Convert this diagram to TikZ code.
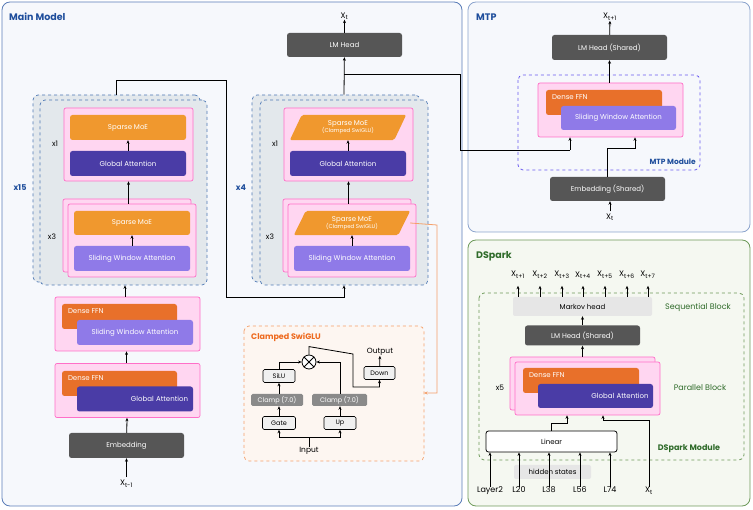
\documentclass[tikz,border=0pt]{standalone}
\usepackage{fontspec}
\setmainfont{Poppins}
\usepackage{xcolor}
\definecolor{panelblue}{HTML}{F6F8FC}
\definecolor{panelline}{HTML}{5B7DB8}
\definecolor{titleblue}{HTML}{1F4E9C}
\definecolor{panelgreen}{HTML}{F5F8F1}
\definecolor{greenline}{HTML}{6E9A5A}
\definecolor{titlegreen}{HTML}{2F6B2A}
\definecolor{stackgray}{HTML}{E3E8EC}
\definecolor{stackline}{HTML}{4F79B5}
\definecolor{pinkfill}{HTML}{FFD6F1}
\definecolor{pinkline}{HTML}{FF6FC8}
\definecolor{moeorange}{HTML}{F0982E}
\definecolor{ffnorange}{HTML}{E8702A}
\definecolor{gapurple}{HTML}{4A3CA6}
\definecolor{swapurple}{HTML}{8F7AE8}
\definecolor{headgray}{HTML}{565656}
\definecolor{clampgray}{HTML}{8A8A8A}
\definecolor{swiglufill}{HTML}{FDF6F1}
\definecolor{swigluline}{HTML}{F5A06A}
\definecolor{swiglutitle}{HTML}{EE6A1E}
\definecolor{mtpdash}{HTML}{6B5CF0}
\definecolor{markovgray}{HTML}{E6E6E6}
\usepackage{tikz}
\usetikzlibrary{arrows.meta, positioning, calc}

\tikzset{
  arr/.style={-{Stealth[length=3.5pt,width=3pt]}, line width=0.8pt},
  plain/.style={line width=0.8pt},
  box/.style={rounded corners=2.5pt, inner sep=1pt, text=white, font=\fontsize{7}{8}\selectfont},
  pinkblk/.style={draw=pinkline, fill=pinkfill, line width=0.7pt, rounded corners=2pt, inner sep=0pt},
  stackbox/.style={draw=stackline, fill=stackgray, dashed, line width=0.7pt, rounded corners=5pt, inner sep=0pt},
  moe/.style={box, fill=moeorange},
  ffn/.style={box, fill=ffnorange},
  ga/.style={box, fill=gapurple},
  swa/.style={box, fill=swapurple},
  head/.style={box, fill=headgray},
  wlabel/.style={text=white, font=\fontsize{7}{8}\selectfont, inner sep=0pt},
  lbl/.style={font=\fontsize{7.5}{8}\selectfont, inner sep=0pt},
  title/.style={font=\fontsize{9.5}{10}\selectfont\bfseries, inner sep=0pt, anchor=west},
  sw/.style={draw, fill=markovgray!60, rounded corners=1.5pt, line width=0.6pt, font=\fontsize{6.5}{7}\selectfont, inner sep=1pt, minimum height=13pt},
  clamp/.style={fill=clampgray, text=white, rounded corners=1.5pt, font=\fontsize{6.5}{7}\selectfont, inner sep=1pt, minimum height=12pt},
}

\begin{document}
\begin{tikzpicture}[x=1pt, y=-1pt]
  \useasboundingbox (0,0) rectangle (753,510);

  % Panels
  \draw[panelline, fill=panelblue, line width=0.8pt, rounded corners=8pt] (2,2) rectangle (462,506);
  \node[title, text=titleblue] (tmain) at (9,17) {Main Model};
  \draw[panelline!70, fill=panelblue, line width=0.8pt, rounded corners=8pt] (468,2) rectangle (750,232);
  \node[title, text=titleblue] (tmtp) at (476,17) {MTP};
  \draw[greenline, fill=panelgreen, line width=0.8pt, rounded corners=8pt] (468,240) rectangle (750,506);
  \node[title, text=titlegreen] (tdspark) at (476,256) {DSpark};

  % Left stack (x15)
  \node[stackbox, minimum width=167pt, minimum height=187pt] (lback) at (116.5,188.5) {};
  \node[stackbox, minimum width=167pt, minimum height=185pt] (lstack) at (123.5,192.5) {};
  \node[pinkblk, minimum width=129pt, minimum height=73pt] (lx1) at (128.5,144.5) {};
  \node[moe, minimum width=116pt, minimum height=25pt] (lmoe1) at (128,127.5) {Sparse MoE};
  \node[ga, minimum width=116pt, minimum height=25pt] (lga) at (128,163.5) {Global Attention};
  \node[pinkblk, minimum width=128pt, minimum height=73pt] (lx3b) at (127,235.5) {};
  \node[pinkblk, minimum width=128pt, minimum height=73pt] (lx3) at (132,240.5) {};
  \node[moe, minimum width=116pt, minimum height=24pt] (lmoe3) at (132,223) {Sparse MoE};
  \node[swa, minimum width=116pt, minimum height=25pt] (lswa) at (132,258.5) {Sliding Window Attention};
  \node[lbl] (lrep1) at (55,144) {x1};
  \node[lbl] (lrep3) at (52,237) {x3};
  \node[lbl, text=titleblue, font=\fontsize{8}{8}\selectfont\bfseries] (lrep15) at (20,188) {x15};
  \draw[arr] (lga) -- (lmoe1);
  \draw[arr] (lswa) -- (lmoe3);
  \draw[arr] (lx3.north -| lx1) -- (lx1.south);

  % Right stack (x4)
  \node[stackbox, minimum width=168pt, minimum height=187pt] (rback) at (336,188.5) {};
  \node[stackbox, minimum width=168pt, minimum height=185pt] (rstack) at (344,192.5) {};
  \node[pinkblk, minimum width=129pt, minimum height=73pt] (rx1) at (348.5,144.5) {};
  \node[inner sep=0pt, minimum width=116pt, minimum height=25pt] (rmoe1) at (348,127.5) {};
  \fill[moeorange, rounded corners=2pt] ($(rmoe1.south west)$) -- ($(rmoe1.north west)+(12,0)$) -- (rmoe1.north east) -- ($(rmoe1.south east)-(12,0)$) -- cycle;
  \node[wlabel, align=center] at (rmoe1) {Sparse MoE\\[-1pt]{\fontsize{5.5}{6}\selectfont(Clamped SwiGLU)}};
  \node[ga, minimum width=116pt, minimum height=25pt] (rga) at (348,163.5) {Global Attention};
  \node[pinkblk, minimum width=128pt, minimum height=73pt] (rx3b) at (347,235.5) {};
  \node[pinkblk, minimum width=128pt, minimum height=73pt] (rx3) at (352,240.5) {};
  \node[inner sep=0pt, minimum width=116pt, minimum height=24pt] (rmoe3) at (352,223) {};
  \fill[moeorange, rounded corners=2pt] ($(rmoe3.south west)$) -- ($(rmoe3.north west)+(12,0)$) -- (rmoe3.north east) -- ($(rmoe3.south east)-(12,0)$) -- cycle;
  \node[wlabel, align=center] at (rmoe3) {Sparse MoE\\[-1pt]{\fontsize{5.5}{6}\selectfont(Clamped SwiGLU)}};
  \node[swa, minimum width=116pt, minimum height=25pt] (rswa) at (352,258.5) {Sliding Window Attention};
  \node[lbl] (rrep1) at (275,144) {x1};
  \node[lbl] (rrep3) at (270,237) {x3};
  \node[lbl, text=titleblue, font=\fontsize{8}{8}\selectfont\bfseries] (rrep4) at (241,188) {x4};
  \draw[arr] (rga) -- (rmoe1);
  \draw[arr] (rswa) -- (rmoe3);
  \draw[arr] (rx3.north -| rx1) -- (rx1.south);

  % Head of main model
  \node[head, minimum width=115pt, minimum height=24pt] (lmhead) at (344.5,45) {LM Head};
  \node[lbl, font=\fontsize{8}{8}\selectfont] (xt) at (344.5,16) {X\textsubscript{t}};
  \draw[arr] (lmhead) -- (xt);
  \draw[arr] (rback.north -| rstack) -- (lmhead);
  \coordinate (tap) at (344,74);
  \draw[plain] (tap) -- (460,74) -- (460,150) -- (570,150);

  % Lower blocks
  \node[pinkblk, minimum width=145pt, minimum height=54pt] (blkA) at (127.5,324) {};
  \node[ffn, minimum width=115pt, minimum height=25pt] (ffnA) at (119.5,316.5) {};
  \node[wlabel, anchor=north west] at ([xshift=6pt,yshift=-5pt]ffnA.north west) {Dense FFN};
  \node[swa, minimum width=116pt, minimum height=25pt] (swaA) at (135,332.5) {Sliding Window Attention};
  \node[pinkblk, minimum width=145pt, minimum height=54pt] (blkB) at (127.5,390.5) {};
  \node[ffn, minimum width=115pt, minimum height=25pt] (ffnB) at (119.5,383.5) {};
  \node[wlabel, anchor=north west] at ([xshift=6pt,yshift=-5pt]ffnB.north west) {Dense FFN};
  \node[ga, minimum width=116pt, minimum height=25pt, text width=106pt, align=right] (gaB) at (135,399) {Global Attention};
  \node[head, minimum width=115pt, minimum height=25pt] (embed) at (126.5,445.5) {Embedding};
  \node[lbl, font=\fontsize{8}{8}\selectfont] (xtm) at (126.5,484) {X\textsubscript{t-1}};
  \draw[arr] (xtm.north) ++(0,-3) -- (embed.south);
  \draw[arr] (embed) -- (blkB);
  \draw[arr] (blkB.north -| embed) -- (blkA.south -| embed);
  \draw[arr] (blkA.north -| 125,0) -- (lstack.south -| 125,0);
  \draw[arr] (lback.north) -- ++(0,-14) -| (226,297) -| (rstack.south);

  % Clamped SwiGLU
  \draw[swigluline, dashed, fill=swiglufill, line width=0.7pt, rounded corners=5pt] (244,326) rectangle (424,461);
  \node[title, text=swiglutitle, font=\fontsize{8}{9}\selectfont\bfseries] (tswi) at (251,337) {Clamped SwiGLU};
  \node[sw, minimum width=33pt] (gate) at (279,423) {Gate};
  \node[sw, minimum width=32pt] (up) at (340,423) {Up};
  \node[clamp, minimum width=52pt] (clampl) at (277,400) {Clamp (7.0)};
  \node[clamp, minimum width=55pt] (clampr) at (339.5,400) {Clamp (7.0)};
  \node[sw, minimum width=32pt] (silu) at (279,376) {SiLU};
  \node[circle, draw, line width=0.8pt, fill=white, minimum size=14pt, inner sep=0pt] (mul) at (309,362) {};
  \draw[line width=0.8pt] (mul.north west) -- (mul.south east) (mul.north east) -- (mul.south west);
  \node[sw, minimum width=31pt] (down) at (379.5,373) {Down};
  \node[lbl] (outp) at (380,352) {Output};
  \node[lbl] (inp) at (309,451) {Input};
  \coordinate (split) at (309,437);
  \draw[plain] (inp.north) -- (split);
  \draw[arr] (split) -| (gate.south);
  \draw[arr] (split) -| (up.south);
  \draw[arr] (gate) -- (clampl.south -| gate);
  \draw[arr] (clampl.north -| silu) -- (silu);
  \draw[arr] (silu.north) |- (mul.west);
  \draw[arr] (up) -- (clampr.south -| up);
  \draw[arr] (clampr.north -| up) |- (mul.east);
  \draw[arr] (mul.north) -- ++(0,-8) -- (353,354) -- (353,387) -| (down.south);
  \draw[arr] (down) -- (outp);
  \draw[swigluline, -{Stealth[length=3.5pt,width=3pt]}, line width=0.8pt] (rmoe3.east) -- (437,225) |- (424,393);

  % MTP
  \node[head, minimum width=115pt, minimum height=25pt] (mhead) at (609.5,47.5) {LM Head (Shared)};
  \node[lbl, font=\fontsize{8}{8}\selectfont] (xt1) at (610,17) {X\textsubscript{t+1}};
  \draw[mtpdash, dashed, line width=0.8pt, rounded corners=5pt] (518,75) rectangle (700,170);
  \node[lbl, text=titleblue, font=\fontsize{7.5}{8}\selectfont\bfseries, anchor=east] (mtpmod) at (696,162) {MTP Module};
  \node[pinkblk, minimum width=145pt, minimum height=54pt] (mblk) at (610.5,110) {};
  \node[ffn, minimum width=116pt, minimum height=25pt] (mffn) at (604,102.5) {};
  \node[wlabel, anchor=north west] at ([xshift=6pt,yshift=-5pt]mffn.north west) {Dense FFN};
  \node[swa, minimum width=115pt, minimum height=24pt] (mswa) at (618.5,118) {Sliding Window Attention};
  \node[head, minimum width=115pt, minimum height=24pt] (membed) at (607.5,189) {Embedding (Shared)};
  \node[lbl, font=\fontsize{8}{8}\selectfont] (xtm2) at (610,217) {X\textsubscript{t}};
  \draw[arr] (xtm2.north) ++(0,-2) -- (membed.south -| xtm2);
  \draw[arr] (membed.north) |- (635,148) -- (mblk.south -| 635,0);
  \draw[arr] (570,150) -- (mblk.south -| 570,0);
  \draw[arr] (mblk.north -| mhead) -- (mhead.south);
  \draw[arr] (mhead) -- (xt1);

  % DSpark
  \draw[greenline, dashed, line width=0.8pt, rounded corners=5pt] (479,293) rectangle (744,460);
  \node[fill=markovgray, rounded corners=2pt, minimum width=139pt, minimum height=19pt, inner sep=0pt, font=\fontsize{7}{8}\selectfont] (markov) at (582.5,306.5) {Markov head};
  \node[lbl, text=titlegreen, font=\fontsize{8}{8}\selectfont] (seqb) at (698,307) {Sequential Block};
  \foreach \i/\x in {1/518,2/540,3/562,4/583,5/605,6/627,7/648}{
    \node[lbl, font=\fontsize{8}{8}\selectfont] (xo\i) at (\x,275) {X\textsubscript{t+\i}};
    \draw[arr] (markov.north -| \x,0) -- ++(0,-11);
  }
  \node[head, minimum width=115pt, minimum height=20pt] (dhead) at (582.5,335.5) {LM Head (Shared)};
  \draw[arr] (dhead) -- (markov);
  \node[pinkblk, minimum width=145pt, minimum height=53pt] (dblkb) at (582.5,383.5) {};
  \node[pinkblk, minimum width=145pt, minimum height=53pt] (dblk) at (587.5,388.5) {};
  \node[ffn, minimum width=116pt, minimum height=25pt] (dffn) at (581,380.5) {};
  \node[wlabel, anchor=north west] at ([xshift=6pt,yshift=-5pt]dffn.north west) {Dense FFN};
  \node[ga, minimum width=115pt, minimum height=24pt, text width=106pt, align=right] (dga) at (595.5,396) {Global Attention};
  \draw[arr] (dblkb.north -| dhead) -- (dhead);
  \node[lbl] (x5) at (500,388) {x5};
  \node[lbl, text=titlegreen, font=\fontsize{8}{8}\selectfont] (parb) at (700,388) {Parallel Block};
  \node[lbl, text=titlegreen, font=\fontsize{8}{8}\selectfont\bfseries] (dsmod) at (689,449) {DSpark Module};
  \node[draw, fill=white, line width=0.8pt, rounded corners=2.5pt, minimum width=131pt, minimum height=21pt, inner sep=0pt, font=\fontsize{7}{8}\selectfont] (linear) at (551.5,441.5) {Linear};
  \draw[arr] (linear.north) -- ++(0,-7) -| (dblk.south -| 567,0);
  \node[fill=markovgray, rounded corners=2pt, minimum width=77pt, minimum height=14pt, inner sep=0pt, font=\fontsize{7}{8}\selectfont] (hidden) at (552.5,472) {hidden states};
  \foreach \n/\t/\x in {la/Layer2/490,lb/L20/519,lc/L38/549,ld/L56/580,le/L74/610}{
    \node[lbl, font=\fontsize{8}{8}\selectfont, anchor=base] (\n) at (\x,493) {\t};
    \draw[arr] (\n.north) -- (linear.south -| \n);
  }
  \node[lbl, font=\fontsize{8}{8}\selectfont, anchor=base] (xtd) at (649,493) {X\textsubscript{t}};
  \draw[arr] (xtd.north) -- (649,420) -| (dblk.south -| 603,0);
\end{tikzpicture}
\end{document}
